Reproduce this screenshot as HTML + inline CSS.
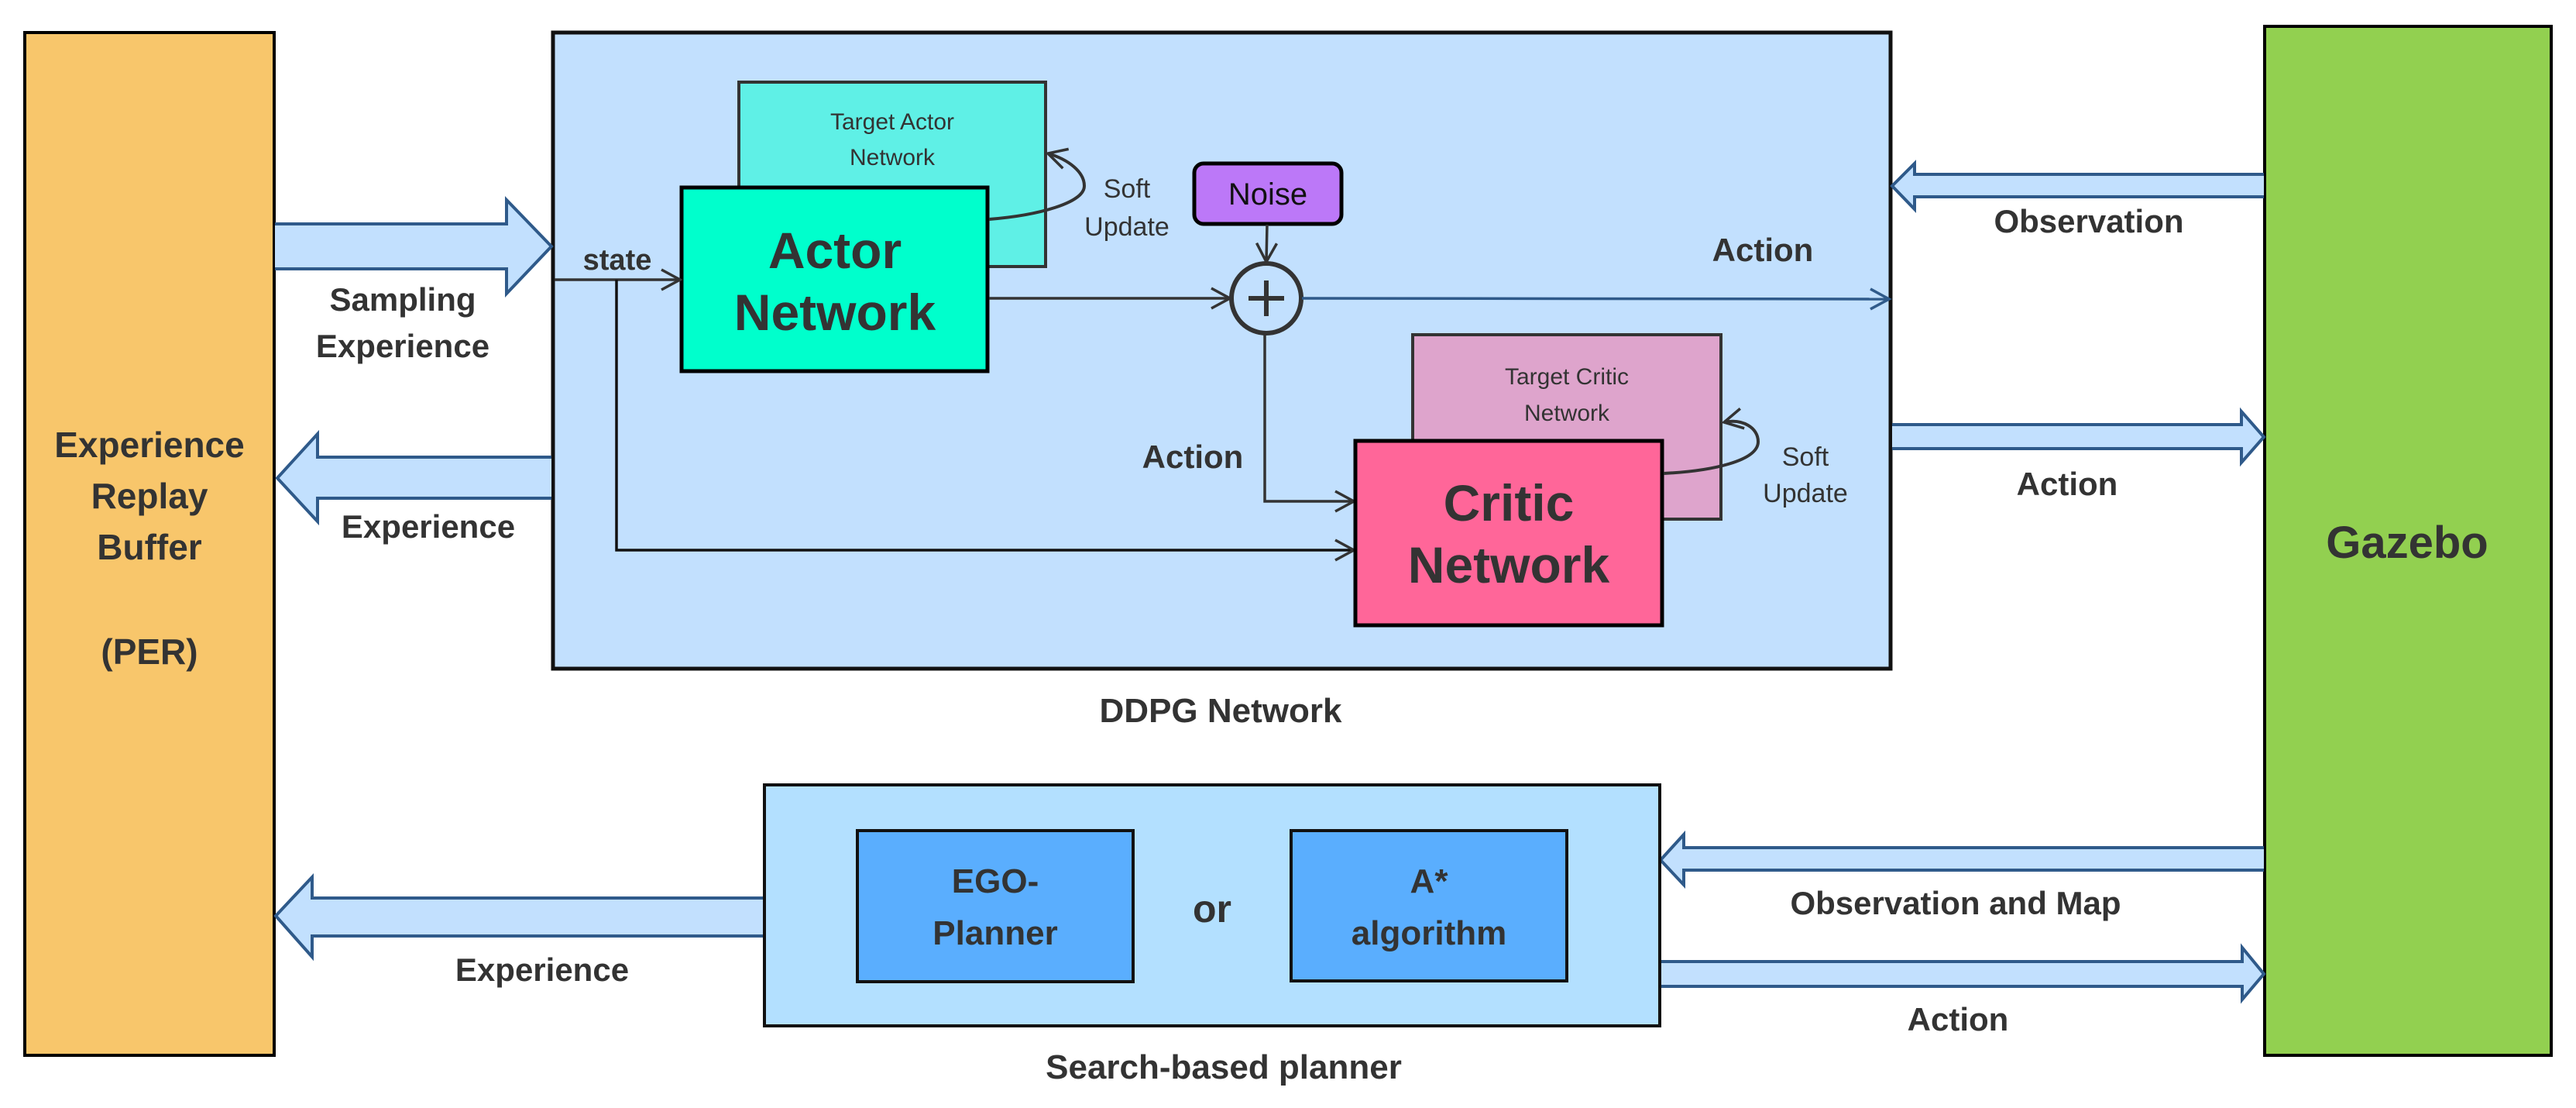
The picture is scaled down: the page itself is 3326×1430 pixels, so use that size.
<!DOCTYPE html>
<html><head><meta charset="utf-8"><style>
html,body{margin:0;padding:0;background:#fff;}
svg{display:block;}
text{font-family:"Liberation Sans",sans-serif;fill:#333;text-anchor:middle;}
.b{font-weight:bold;}
</style></head><body>
<svg width="3326" height="1430" viewBox="0 0 3326 1430" xmlns="http://www.w3.org/2000/svg">
<defs>
<marker id="ah" markerWidth="14" markerHeight="14" refX="12" refY="7" orient="auto" markerUnits="userSpaceOnUse">
<path d="M1,1 L12,7 L1,13" fill="none" stroke="#333" stroke-width="3"/></marker>
<marker id="ah2" markerWidth="30" markerHeight="30" refX="26" refY="15" orient="auto" markerUnits="userSpaceOnUse">
<path d="M2,2 L26,15 L2,28" fill="none" stroke="#333" stroke-width="3.5"/></marker>
<marker id="ahb" markerWidth="30" markerHeight="30" refX="26" refY="15" orient="auto" markerUnits="userSpaceOnUse">
<path d="M2,2 L26,15 L2,28" fill="none" stroke="#2f5a8a" stroke-width="3.5"/></marker>
</defs>

<!-- Left buffer -->
<rect x="32" y="42" width="322" height="1320" fill="#f8c66b" stroke="#000" stroke-width="4"/>
<text class="b" x="193" y="590" font-size="46">Experience</text>
<text class="b" x="193" y="656" font-size="46">Replay</text>
<text class="b" x="193" y="722" font-size="46">Buffer</text>
<text class="b" x="193" y="857" font-size="46">(PER)</text>

<!-- Gazebo -->
<rect x="2924" y="34" width="370" height="1328" fill="#92d050" stroke="#000" stroke-width="4"/>
<text class="b" x="3108" y="720" font-size="58">Gazebo</text>

<!-- DDPG box -->
<rect x="714" y="42" width="1727" height="821" fill="#c2e0fe" stroke="#111" stroke-width="5"/>
<text class="b" x="1576" y="932" font-size="44">DDPG Network</text>

<!-- Target actor -->
<rect x="954" y="106" width="396" height="238" fill="#5ff0e6" stroke="#333" stroke-width="4"/>
<text x="1152" y="167" font-size="30">Target Actor</text>
<text x="1152" y="213" font-size="30">Network</text>
<!-- Actor -->
<rect x="880" y="242" width="395" height="237" fill="#00ffcc" stroke="#000" stroke-width="5"/>
<text class="b" x="1078" y="346" font-size="66">Actor</text>
<text class="b" x="1078" y="426" font-size="66">Network</text>
<!-- soft update actor -->
<path d="M1277,283 C1340,278 1400,262 1400,240 C1400,222 1380,206 1353,198" fill="none" stroke="#333" stroke-width="4" marker-end="url(#ah2)"/>
<text x="1455" y="255" font-size="34">Soft</text>
<text x="1455" y="304" font-size="34">Update</text>

<!-- Noise -->
<rect x="1542" y="211" width="190" height="78" rx="12" fill="#bc78f8" stroke="#000" stroke-width="5"/>
<text x="1637" y="264" font-size="40" style="fill:#111">Noise</text>
<line x1="1636" y1="290" x2="1635" y2="338" stroke="#333" stroke-width="3.5" marker-end="url(#ah2)"/>
<!-- plus -->
<circle cx="1635" cy="385" r="45" fill="none" stroke="#333" stroke-width="6"/>
<line x1="1612" y1="385" x2="1658" y2="385" stroke="#333" stroke-width="6"/>
<line x1="1635" y1="362" x2="1635" y2="408" stroke="#333" stroke-width="6"/>
<line x1="1277" y1="385" x2="1588" y2="385" stroke="#333" stroke-width="3.5" marker-end="url(#ah2)"/>
<line x1="1681" y1="385" x2="2439" y2="386" stroke="#2f5a8a" stroke-width="3.5" marker-end="url(#ahb)"/>
<text class="b" x="2276" y="337" font-size="42">Action</text>

<!-- state -->
<text class="b" x="797" y="348" font-size="38">state</text>
<line x1="716" y1="361" x2="878" y2="361" stroke="#333" stroke-width="3.5" marker-end="url(#ah2)"/>
<polyline points="796,361 796,710 1748,710" fill="none" stroke="#111" stroke-width="3.5" marker-end="url(#ah2)"/>
<polyline points="1633,431 1633,647 1748,647" fill="none" stroke="#333" stroke-width="3.5" marker-end="url(#ah2)"/>
<text class="b" x="1540" y="604" font-size="42">Action</text>

<!-- Target critic -->
<rect x="1824" y="432" width="398" height="238" fill="#dea4cc" stroke="#333" stroke-width="4"/>
<text x="2023" y="496" font-size="30">Target Critic</text>
<text x="2023" y="543" font-size="30">Network</text>
<!-- Critic -->
<rect x="1750" y="569" width="396" height="238" fill="#ff6699" stroke="#000" stroke-width="5"/>
<text class="b" x="1948" y="672" font-size="66">Critic</text>
<text class="b" x="1948" y="752" font-size="66">Network</text>
<path d="M2148,611 C2210,608 2270,595 2270,570 C2270,552 2250,540 2226,545" fill="none" stroke="#333" stroke-width="4" marker-end="url(#ah2)"/>
<text x="2331" y="601" font-size="34">Soft</text>
<text x="2331" y="648" font-size="34">Update</text>

<!-- Block arrows -->
<g fill="#c2e0fe" stroke="#2f5a8a" stroke-width="4">
<path d="M355,289 L654,289 L654,258 L712,318 L654,379 L654,347 L355,347"/>
<path d="M712,590 L410,590 L410,560 L358,617 L410,673 L410,643 L712,643"/>
<path d="M2923,225 L2472,225 L2472,211 L2443,240 L2472,270 L2472,254 L2923,254"/>
<path d="M2443,548 L2894,548 L2894,531 L2923,564 L2894,597 L2894,579 L2443,579"/>
<path d="M986,1159 L403,1159 L403,1132 L356,1182 L403,1235 L403,1208 L986,1208"/>
<path d="M2923,1094 L2174,1094 L2174,1077 L2144,1110 L2174,1142 L2174,1123 L2923,1123"/>
<path d="M2144,1241 L2895,1241 L2895,1223 L2923,1257 L2895,1290 L2895,1273 L2144,1273"/>
</g>
<text class="b" x="520" y="401" font-size="42">Sampling</text>
<text class="b" x="520" y="461" font-size="42">Experience</text>
<text class="b" x="553" y="694" font-size="42">Experience</text>
<text class="b" x="2697" y="300" font-size="42">Observation</text>
<text class="b" x="2669" y="639" font-size="42">Action</text>

<!-- Search-based planner -->
<rect x="987" y="1013" width="1156" height="311" fill="#b3e0ff" stroke="#111" stroke-width="4"/>
<rect x="1107" y="1072" width="356" height="195" fill="#5aaefe" stroke="#111" stroke-width="4"/>
<rect x="1667" y="1072" width="356" height="194" fill="#5aaefe" stroke="#111" stroke-width="4"/>
<text class="b" x="1285" y="1152" font-size="44">EGO-</text>
<text class="b" x="1285" y="1219" font-size="44">Planner</text>
<text class="b" x="1845" y="1152" font-size="44">A*</text>
<text class="b" x="1845" y="1219" font-size="44">algorithm</text>
<text class="b" x="1565" y="1190" font-size="50">or</text>
<text class="b" x="700" y="1266" font-size="42">Experience</text>
<text class="b" x="2525" y="1180" font-size="42">Observation and Map</text>
<text class="b" x="2528" y="1330" font-size="42">Action</text>
<text class="b" x="1580" y="1392" font-size="44">Search-based planner</text>
</svg>
</body></html>
